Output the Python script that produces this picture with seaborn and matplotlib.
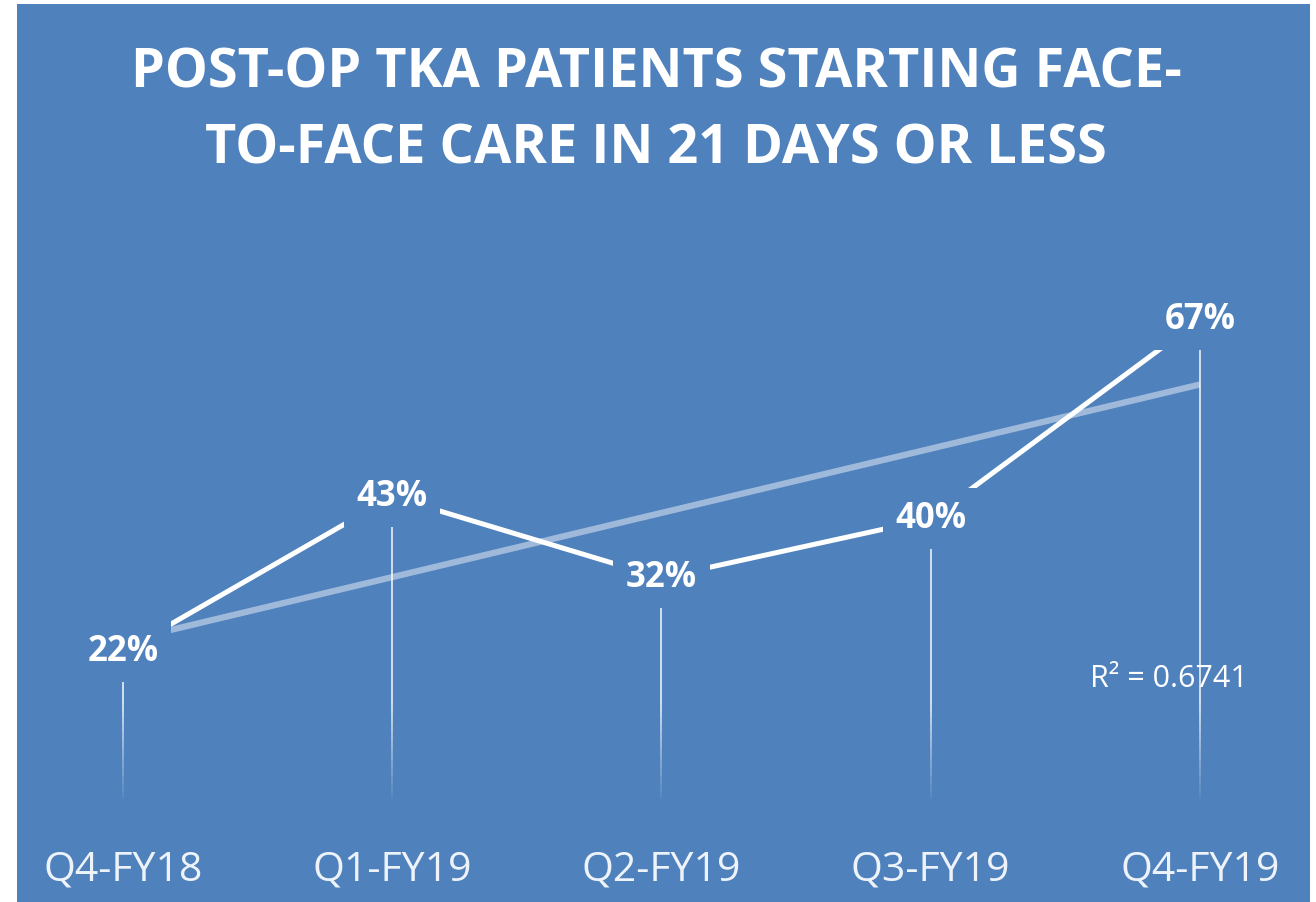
import numpy as np
import pandas as pd
import matplotlib
matplotlib.use("Agg")
import matplotlib.pyplot as plt
from matplotlib.patches import Rectangle
import seaborn as sns

# data
quarters = ["Q4-FY18", "Q1-FY19", "Q2-FY19", "Q3-FY19", "Q4-FY19"]
pct = [22, 43, 32, 40, 67]
title_lines = ["POST-OP TKA PATIENTS STARTING FACE-", "TO-FACE CARE IN 21 DAYS OR LESS"]

blue = "#4F81BD"
df = pd.DataFrame({"pos": np.arange(len(quarters)), "pct": pct, "quarter": quarters})

sns.set_style("white")
plt.rcParams["font.family"] = ["Open Sans", "DejaVu Sans"]

W, H = 1316, 902
fig = plt.figure(figsize=(W / 100, H / 100), dpi=100, facecolor="white")
fig.patches.append(Rectangle((17 / W, 0), 1293 / W, 898 / H, transform=fig.transFigure,
                             facecolor=blue, edgecolor="none", zorder=-10))

ax = fig.add_axes([17 / W, 88 / H, 1293 / W, 614 / H])
ax.set_facecolor("none")
ax.set_xlim(-0.394, 4.409)
ax.set_ylim(0, 83.2)
for s in ax.spines.values():
    s.set_visible(False)

# trend line
sns.regplot(data=df, x="pos", y="pct", ci=None, scatter=False, truncate=True, ax=ax,
            line_kws=dict(color="white", alpha=0.45, lw=4.5, solid_capstyle="butt", zorder=2))

# main series
sns.lineplot(data=df, x="pos", y="pct", ax=ax, color="white", lw=3.6, zorder=3)

# drop lines fading toward the bottom
fade_top, fade_bot, nseg = 15, 1.2, 14
for x, v in zip(df["pos"], df["pct"]):
    ax.vlines(x, fade_top, v, color="white", lw=1.3, alpha=0.8, zorder=1)
    edges = np.linspace(fade_top, fade_bot, nseg + 1)
    for i in range(nseg):
        ax.vlines(x, edges[i + 1], edges[i], color="white", lw=1.3,
                  alpha=0.8 * (1 - (i + 0.5) / nseg), zorder=1)

# data labels with background boxes that cut the lines
for x, v in zip(df["pos"], df["pct"]):
    ax.text(x, v, f"{v}%", ha="center", va="center", color="white", fontsize=25,
            fontweight="bold", zorder=5,
            bbox=dict(boxstyle="square,pad=0.36", facecolor=blue, edgecolor="none"))

# R squared of the linear fit
fit = np.polyfit(df["pos"], df["pct"], 1)
pred = np.polyval(fit, df["pos"])
r2 = 1 - np.sum((df["pct"] - pred) ** 2) / np.sum((df["pct"] - df["pct"].mean()) ** 2)
ax.text(3.59, 18.3, f"R² = {r2:.4f}", ha="left", va="center", color="white",
        fontsize=22, zorder=6)

ax.set_xticks(df["pos"])
ax.set_xticklabels(quarters, fontsize=29.5, color="#EEF3FA")
ax.tick_params(axis="x", length=0, pad=26)
ax.set_yticks([])
ax.set_xlabel("")
ax.set_ylabel("")

fig.text(656 / W, 1 - 74 / H, title_lines[0], ha="center", va="center", color="white",
         fontsize=39, fontweight="bold")
fig.text(656 / W, 1 - 149 / H, title_lines[1], ha="center", va="center", color="white",
         fontsize=39, fontweight="bold")

fig.savefig("out.png", dpi=100, facecolor="white")
